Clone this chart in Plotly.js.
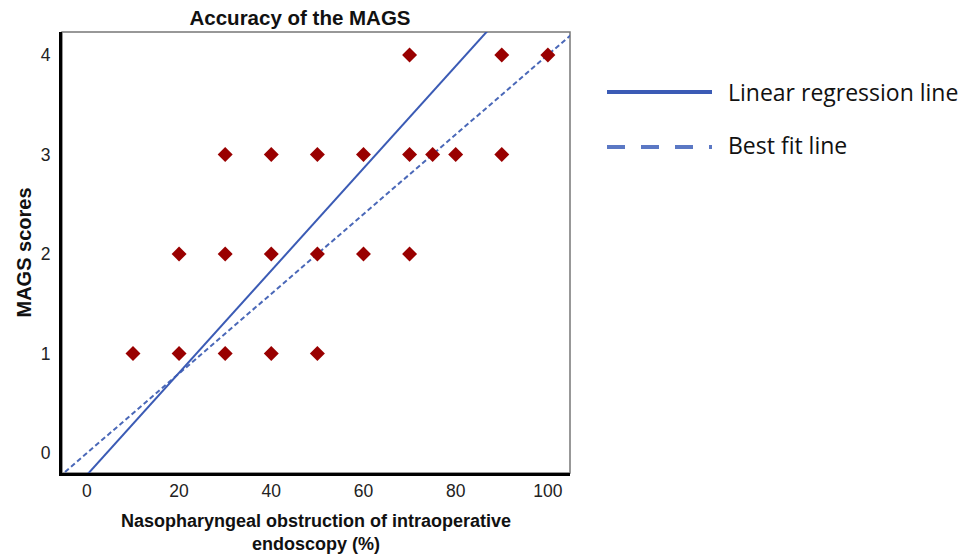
<!DOCTYPE html>
<html>
<head>
<meta charset="utf-8">
<script src="https://cdn.plot.ly/plotly-3.0.1.min.js"></script>
<style>html,body{margin:0;padding:0;background:#fff;}#chart{width:973px;height:554px;}</style>
</head>
<body>
<div id="chart"></div>
<script>
// Observed data: nasopharyngeal obstruction (%) vs MAGS score
const obstruction = [10,20,30,40,50, 20,30,40,50,60,70, 30,40,50,60,70,75,80,90, 70,90,100];
const magsScores  = [1,1,1,1,1,      2,2,2,2,2,2,       3,3,3,3,3,3,3,3,          4,4,4];

// Line endpoints
const regLineX = [0, 90];
const regLineY = [-0.22, 4.40];
const bestFitX = [-10, 110];
const bestFitY = [-0.4, 4.4];

const xTicks = [0,20,40,60,80,100];
const yTicks = [0,1,2,3,4];
const legendLabels = ["Linear regression line", "Best fit line"];

const lineColor = "#3B5BB5";
const dashColor = "#4A68B8";

const traces = [
  {x: bestFitX, y: bestFitY, mode: "lines", line: {color: dashColor, width: 2, dash: "5px,3px"}, showlegend: false, hoverinfo: "skip"},
  {x: regLineX, y: regLineY, mode: "lines", line: {color: lineColor, width: 2}, showlegend: false, hoverinfo: "skip"},
  {x: obstruction, y: magsScores, mode: "markers", marker: {symbol: "diamond", size: 11.5, color: "#990000"}, showlegend: false}
];

const W = 508, H = 441, L = 62, B = 473;
const layout = {
  width: 973, height: 554,
  margin: {l: 62, r: 403, t: 32, b: 81},
  paper_bgcolor: "#fff", plot_bgcolor: "#fff",
  font: {family: "Liberation Sans, Arial, sans-serif", color: "#222"},
  title: {text: "<b>Accuracy of the MAGS</b>", x: (300 - L) / W, xref: "paper", xanchor: "center", y: 1 - 18 / 554, yanchor: "middle", font: {size: 20.5, color: "#111"}},
  xaxis: {
    range: [-5.4, 104.8], tickvals: xTicks, ticktext: xTicks.map(String),
    showgrid: false, zeroline: false, showline: true, linecolor: "#000", linewidth: 3,
    ticks: "", ticklabelstandoff: 0, tickfont: {size: 17.5, color: "#222"},
    title: {text: "<b>Nasopharyngeal obstruction of intraoperative<br>endoscopy (%)</b>", font: {size: 18, color: "#111"}, standoff: 16}
  },
  yaxis: {
    range: [-0.2, 4.23], tickvals: yTicks, ticktext: yTicks.map(String),
    showgrid: false, zeroline: false, showline: true, linecolor: "#000", linewidth: 3,
    ticks: "", ticklabelstandoff: 5, tickfont: {size: 17.5, color: "#222"},
    title: {text: "<b>MAGS scores</b>", font: {size: 20, color: "#111"}, standoff: 4}
  },
  shapes: [
    {type: "rect", xref: "x domain", yref: "y domain", x0: 0, x1: 1, y0: 0, y1: 1, line: {color: "#777", width: 1.5}, layer: "below"},
    {type: "line", xref: "paper", yref: "paper", x0: (607 - L) / W, x1: (712 - L) / W, y0: (B - 92) / H, y1: (B - 92) / H, line: {color: lineColor, width: 4}},
    {type: "line", xref: "paper", yref: "paper", x0: (607 - L) / W, x1: (712 - L) / W, y0: (B - 147) / H, y1: (B - 147) / H, line: {color: "#5B78C4", width: 4, dash: "18px,16px"}}
  ],
  annotations: [
    {text: legendLabels[0], xref: "paper", yref: "paper", x: (726 - L) / W, y: (B - 92) / H, xanchor: "left", yanchor: "middle", showarrow: false, font: {size: 23, color: "#111", family: "Open Sans, Liberation Sans, sans-serif"}},
    {text: legendLabels[1], xref: "paper", yref: "paper", x: (726 - L) / W, y: (B - 145) / H, xanchor: "left", yanchor: "middle", showarrow: false, font: {size: 23, color: "#111", family: "Open Sans, Liberation Sans, sans-serif"}}
  ]
};

Plotly.newPlot("chart", traces, layout, {staticPlot: true, displayModeBar: false});
</script>
</body>
</html>
